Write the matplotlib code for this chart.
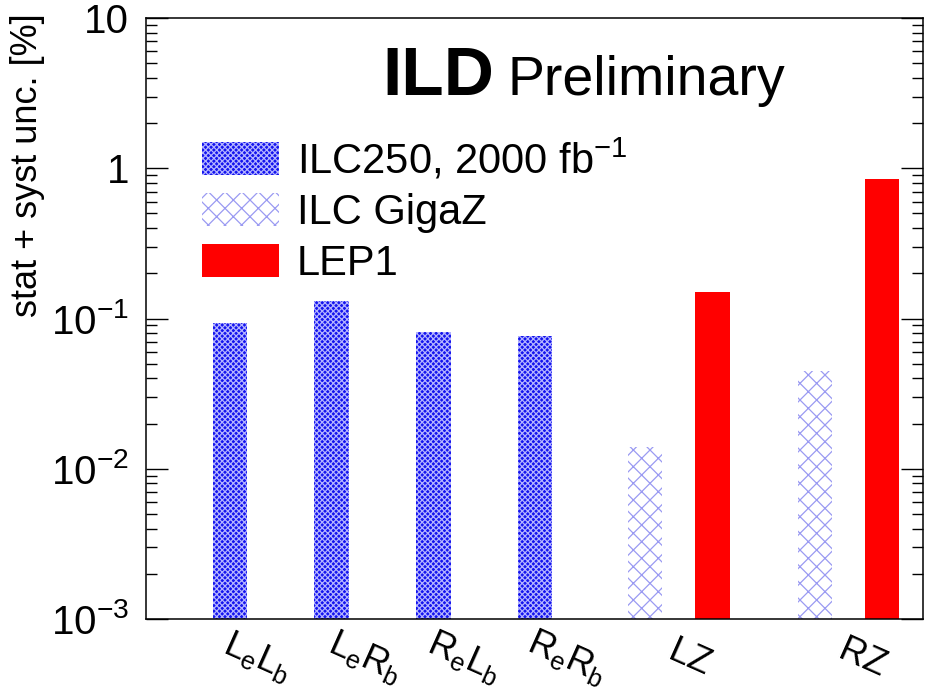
import numpy as np
import matplotlib.pyplot as plt
from matplotlib.ticker import NullFormatter

plt.rcParams['font.family'] = ['Liberation Sans', 'DejaVu Sans']
plt.rcParams['mathtext.fontset'] = 'custom'
plt.rcParams['mathtext.rm'] = 'Liberation Sans'
plt.rcParams['mathtext.it'] = 'Liberation Sans:italic'
plt.rcParams['mathtext.bf'] = 'Liberation Sans:bold'
plt.rcParams['hatch.linewidth'] = 0.9

# uncertainties in %
ilc250_unc = [0.093, 0.13, 0.081, 0.076]
gigaz_unc = [0.014, 0.045]
lep1_unc = [0.15, 0.85]

cat_labels = [r'$\mathrm{L_{e}L_{b}}$', r'$\mathrm{L_{e}R_{b}}$',
              r'$\mathrm{R_{e}L_{b}}$', r'$\mathrm{R_{e}R_{b}}$',
              r'$\mathrm{LZ}$', r'$\mathrm{RZ}$']

# layout (bar / label positions on the x axis)
ilc_x = [0, 1, 2, 3]
gigaz_x = [4.08, 5.75]
lep_x = [4.745, 6.41]
label_x = [0.27, 1.33, 2.31, 3.32, 4.52, 6.21]
w = 0.34

fig = plt.figure(figsize=(9.27, 6.91), dpi=100)
ax = fig.add_axes([146 / 927, 72 / 691, 777 / 927, 601 / 691])
ax.set_yscale('log')

ax.bar(ilc_x, ilc250_unc, width=w, facecolor='#1414ee', edgecolor='#b4b4ff',
       hatch='xxxxxx', linewidth=0, label=r'ILC250, 2000 fb$^{-1}$')
ax.bar(gigaz_x, gigaz_unc, width=w, facecolor='white', edgecolor='#9a9af2',
       hatch='xx', linewidth=0, label='ILC GigaZ')
ax.bar(lep_x, lep1_unc, width=w, color='#ff0000', linewidth=0, label='LEP1')

ax.set_xlim(-0.826, 6.814)
ax.set_ylim(1e-3, 10)
ax.set_xticks([])
ax.set_yticks([1e-3, 1e-2, 1e-1, 1, 10])
ax.set_yticklabels([r'$10^{-3}$', r'$10^{-2}$', r'$10^{-1}$', '1', '10'])
ax.yaxis.set_minor_formatter(NullFormatter())
ax.tick_params(axis='y', which='both', direction='in', left=True, right=True)
ax.tick_params(axis='y', which='major', length=16, width=1, labelsize=29, pad=12)
ax.tick_params(axis='y', which='minor', length=8, width=1)
for s in ax.spines.values():
    s.set_linewidth(1.1)

ax.set_ylabel('stat + syst unc. [%]', fontsize=26, loc='top')
ax.yaxis.set_label_coords(-0.130, 1.008)

for xl, lab in zip(label_x, cat_labels):
    ax.text(xl, -0.064, lab, transform=ax.get_xaxis_transform(), fontsize=26,
            rotation=-24, ha='center', va='center')

fig.text(382 / 927, 1 - 95 / 691, 'ILD', fontsize=50, fontweight='bold',
         va='baseline', ha='left')
fig.text(508 / 927, 1 - 95 / 691, 'Preliminary', fontsize=40,
         va='baseline', ha='left')

ax.legend(loc='upper left', bbox_to_anchor=(202 / 927, 1 - 137 / 691),
          bbox_transform=fig.transFigure, frameon=False, fontsize=30,
          handlelength=1.85, handleheight=0.84, handletextpad=0.43,
          labelspacing=0.26, borderpad=0, borderaxespad=0)

fig.savefig('out.png', dpi=100)
